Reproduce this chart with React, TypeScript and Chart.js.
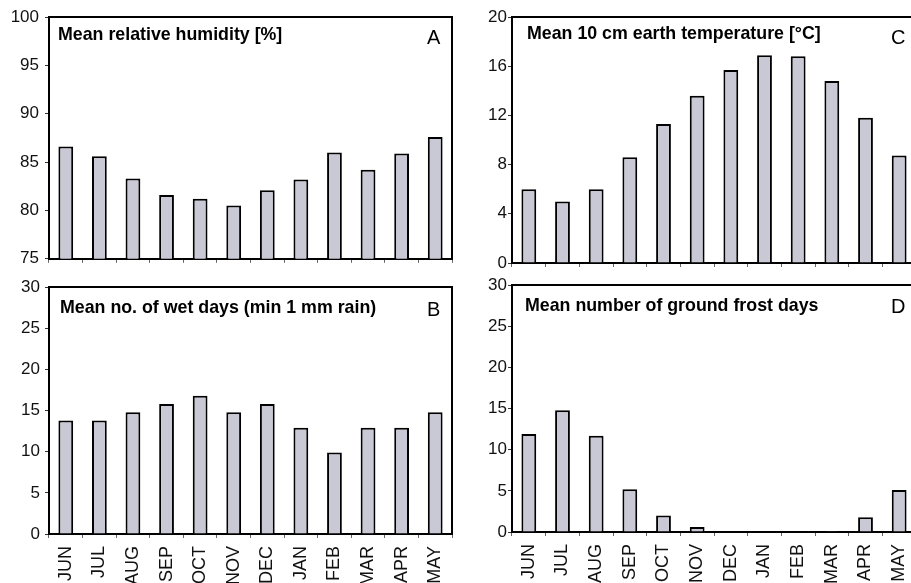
import React, { useEffect, useRef } from "react";
import { Chart, registerables } from "chart.js";
Chart.register(...registerables);

const months = ["JUN", "JUL", "AUG", "SEP", "OCT", "NOV", "DEC", "JAN", "FEB", "MAR", "APR", "MAY"];
const humidity = [86.6, 85.6, 83.3, 81.6, 81.2, 80.5, 82.1, 83.2, 86.0, 84.2, 85.9, 87.6];
const wetDays = [13.8, 13.8, 14.8, 15.8, 16.8, 14.8, 15.8, 12.9, 9.9, 12.9, 12.9, 14.8];
const earthTemp = [6.0, 5.0, 6.0, 8.6, 11.3, 13.6, 15.7, 16.9, 16.8, 14.8, 11.8, 8.75];
const frostDays = [11.9, 14.8, 11.7, 5.2, 2.0, 0.6, 0, 0, 0, 0.1, 1.8, 5.1];

const FONT = 'Arial, "Liberation Sans", sans-serif';

const framePlugin = {
  id: "frame",
  afterDraw(chart: any, _args: any, opts: any) {
    const { ctx, chartArea } = chart;
    const { left, top, right, bottom } = chartArea;
    ctx.save();
    ctx.strokeStyle = "#000";
    ctx.lineWidth = 2;
    ctx.beginPath();
    ctx.moveTo(left, top);
    ctx.lineTo(right, top);
    ctx.lineTo(right, bottom);
    ctx.stroke();
    ctx.fillStyle = "#000";
    ctx.textAlign = "left";
    ctx.textBaseline = "alphabetic";
    ctx.font = `bold 17.8px ${FONT}`;
    ctx.fillText(opts.title, left + opts.titleDx, top + opts.titleDy);
    ctx.font = `20px ${FONT}`;
    ctx.fillText(opts.letter, right - 25, top + opts.letterDy);
    ctx.restore();
  },
};

type PanelProps = {
  data: number[];
  title: string;
  letter: string;
  min: number;
  max: number;
  step: number;
  left: number;
  top: number;
  width: number;
  height: number;
  padTop: number;
  padRight: number;
  yWidth: number;
  xHeight: number;
  showLabels: boolean;
  titleDx: number;
  titleDy: number;
  letterDy: number;
  tickPad: number;
};

function Panel(p: PanelProps) {
  const ref = useRef<HTMLCanvasElement | null>(null);
  useEffect(() => {
    if (!ref.current) return;
    const chart = new Chart(ref.current, {
      type: "bar",
      data: {
        labels: months,
        datasets: [
          {
            data: p.data,
            backgroundColor: "#c9c9d6",
            borderColor: "#000",
            borderWidth: 2,
            barPercentage: 0.44,
            categoryPercentage: 1,
          },
        ],
      },
      plugins: [framePlugin],
      options: {
        responsive: false,
        animation: false,
        devicePixelRatio: 1,
        layout: { padding: { top: p.padTop, right: p.padRight, left: 0, bottom: 0 } },
        plugins: {
          legend: { display: false },
          tooltip: { enabled: false },
          title: { display: false },
          frame: { title: p.title, letter: p.letter, titleDx: p.titleDx, titleDy: p.titleDy, letterDy: p.letterDy },
        } as any,
        scales: {
          x: {
            type: "category",
            offset: true,
            grid: { display: true, offset: true, drawOnChartArea: false, drawTicks: true, tickLength: 4, color: "#666", lineWidth: 1 },
            border: { display: true, color: "#000", width: 2 },
            ticks: {
              display: p.showLabels,
              autoSkip: false,
              minRotation: 90,
              maxRotation: 90,
              padding: 8,
              color: "#111",
              font: { family: FONT, size: 18 },
            },
            afterFit: (s: any) => {
              s.height = p.xHeight;
              s.paddingLeft = 0;
              s.paddingRight = 0;
            },
          },
          y: {
            min: p.min,
            max: p.max,
            grid: { display: true, drawOnChartArea: false, drawTicks: true, tickLength: 4, color: "#333", lineWidth: 1 },
            border: { display: true, color: "#000", width: 2 },
            ticks: {
              stepSize: p.step,
              padding: p.tickPad,
              color: "#111",
              font: { family: FONT, size: 17 },
            },
            afterFit: (s: any) => {
              s.width = p.yWidth;
            },
          },
        },
      } as any,
    });
    return () => chart.destroy();
  }, []);
  return (
    <canvas
      ref={ref}
      width={p.width}
      height={p.height}
      style={{ position: "absolute", left: p.left, top: p.top, width: p.width, height: p.height }}
    />
  );
}

export default function App() {
  return (
    <div
      style={{
        position: "fixed",
        left: 0,
        top: 0,
        width: 911,
        height: 583,
        overflow: "hidden",
        background: "#fff",
      }}
    >
      <Panel
        data={humidity}
        title="Mean relative humidity [%]"
        letter="A"
        min={75}
        max={100}
        step={5}
        left={0}
        top={0}
        width={460}
        height={275}
        padTop={17}
        padRight={8}
        yWidth={49}
        xHeight={12}
        showLabels={false}
        titleDx={9}
        titleDy={23}
        letterDy={27}
        tickPad={6}
      />
      <Panel
        data={earthTemp}
        title="Mean 10 cm earth temperature [°C]"
        letter="C"
        min={0}
        max={20}
        step={4}
        left={460}
        top={0}
        width={460}
        height={275}
        padTop={17}
        padRight={4}
        yWidth={52}
        xHeight={12}
        showLabels={false}
        titleDx={15}
        titleDy={22}
        letterDy={27}
        tickPad={1}
      />
      <Panel
        data={wetDays}
        title="Mean no. of wet days (min 1 mm rain)"
        letter="B"
        min={0}
        max={30}
        step={5}
        left={0}
        top={270}
        width={460}
        height={330}
        padTop={17}
        padRight={8}
        yWidth={49}
        xHeight={66}
        showLabels={true}
        titleDx={11}
        titleDy={26}
        letterDy={29}
        tickPad={5}
      />
      <Panel
        data={frostDays}
        title="Mean number of ground frost days"
        letter="D"
        min={0}
        max={30}
        step={5}
        left={460}
        top={270}
        width={460}
        height={330}
        padTop={15}
        padRight={4}
        yWidth={52}
        xHeight={68}
        showLabels={true}
        titleDx={13}
        titleDy={26}
        letterDy={28}
        tickPad={1}
      />
    </div>
  );
}
